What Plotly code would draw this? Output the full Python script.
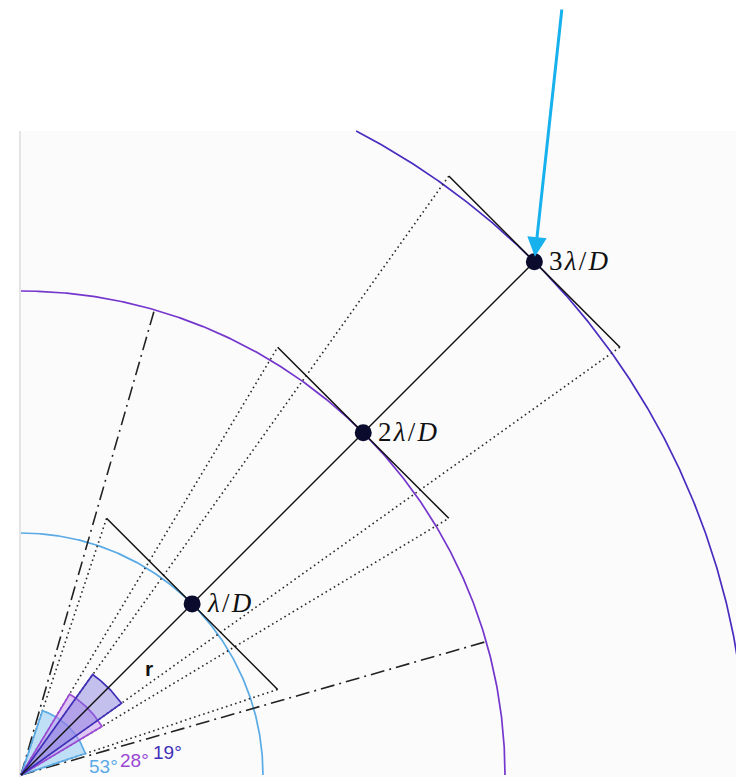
import numpy as np
import plotly.graph_objects as go

# Angular resolution diagram: rings at multiples of lambda/D, tangent chords of
# unit length at each ring, and the angle each chord subtends at the origin.

HS = "\u200a"  # hair space, math-style glyph spacing
RING_RADII = [1, 2, 3]                       # in units of lambda/D
RING_LABELS = [f"<i>λ</i>{HS}/{HS}<i>D</i>",
               f"2{HS}<i>λ</i>{HS}/{HS}<i>D</i>",
               f"3{HS}<i>λ</i>{HS}/{HS}<i>D</i>"]
RING_COLORS = ["#5aaae6", "#7436cc", "#4a2cbf"]

WEDGE_ANGLES = [53, 28, 19]                  # subtended angle, degrees
WEDGE_RADII = [0.28, 0.39, 0.51]
WEDGE_LINE = ["#5aaae6", "#9a48d4", "#3f2fb8"]
WEDGE_FILL = ["rgba(130,195,242,0.50)", "rgba(195,150,238,0.50)", "rgba(120,110,220,0.42)"]

CHORD = 1.0                                  # tangent chord length
AXIS_DEG = 45                                # direction of r
DASHDOT_HALF = 29                            # half-angle of the dash-dot guides
DASHDOT_LEN = 2.0

# Geometry of the canvas: 242 px per unit, origin near the lower-left corner
W, H = 736, 777
UNIT = 242.0
OX, OY = 21, 775
X_RANGE = [-OX / UNIT, (W - OX) / UNIT]
Y_RANGE = [-(H - OY) / UNIT, OY / UNIT]
PANEL = dict(x0=-1 / UNIT, x1=X_RANGE[1], y0=Y_RANGE[0], y1=(OY - 131) / UNIT)

fig = go.Figure()

# light panel behind the drawing
fig.add_shape(type="rect", xref="x", yref="y", layer="below",
              x0=PANEL["x0"], x1=PANEL["x1"], y0=PANEL["y0"], y1=PANEL["y1"],
              fillcolor="#fbfbfb", line=dict(width=0))
fig.add_shape(type="line", xref="x", yref="y", layer="below",
              x0=PANEL["x0"], x1=PANEL["x0"], y0=PANEL["y0"], y1=PANEL["y1"],
              line=dict(color="#e4e4e4", width=2))

def line(xs, ys, color, width, dash="solid"):
    fig.add_trace(go.Scatter(x=xs, y=ys, mode="lines", hoverinfo="skip",
                             line=dict(color=color, width=width, dash=dash)))

a0 = np.radians(AXIS_DEG)
u = np.array([np.cos(a0), np.sin(a0)])       # along r
t = np.array([np.cos(a0), -np.sin(a0)])      # tangent direction

# ring arcs (first quadrant, cut at the panel top)
for r, c in zip(RING_RADII, RING_COLORS):
    top = PANEL["y1"]
    th_max = np.pi / 2 if r <= top else np.arcsin(top / r)
    th = np.linspace(0, th_max, 400)
    line(r * np.cos(th), r * np.sin(th), c, 1.7)

# dash-dot guides
for s in (-1, 1):
    ang = np.radians(AXIS_DEG + s * DASHDOT_HALF)
    line([0, DASHDOT_LEN * np.cos(ang)], [0, DASHDOT_LEN * np.sin(ang)],
         "#222222", 1.6, "14px,5px,2px,5px")

# dotted rays to the chord ends
for r in RING_RADII:
    p = r * u
    for s in (-1, 1):
        e = p + s * CHORD / 2 * t
        line([0, e[0]], [0, e[1]], "#2a2a2a", 1.6, "1.6px,3.2px")

# wedges at the origin, widest first
for ang, rad, lc, fc in zip(WEDGE_ANGLES, WEDGE_RADII, WEDGE_LINE, WEDGE_FILL):
    th = np.radians(np.linspace(AXIS_DEG - ang / 2, AXIS_DEG + ang / 2, 60))
    xs = np.concatenate([[0], rad * np.cos(th), [0]])
    ys = np.concatenate([[0], rad * np.sin(th), [0]])
    fig.add_trace(go.Scatter(x=xs, y=ys, mode="lines", fill="toself",
                             fillcolor=fc, hoverinfo="skip",
                             line=dict(color=lc, width=1.7)))

# radius line
p3 = RING_RADII[-1] * u
line([0, p3[0]], [0, p3[1]], "#111111", 1.4)

# tangent chords
for r in RING_RADII:
    p = r * u
    a, b = p - CHORD / 2 * t, p + CHORD / 2 * t
    line([a[0], b[0]], [a[1], b[1]], "#111111", 1.5)

# points on the rings
pts = np.array([r * u for r in RING_RADII])
fig.add_trace(go.Scatter(x=pts[:, 0], y=pts[:, 1], mode="markers", hoverinfo="skip",
                         marker=dict(size=17, color="#0b0b2e",
                                     line=dict(color="#0b0b2e", width=0))))

# ring labels
for (x, y), lab in zip(pts, RING_LABELS):
    fig.add_annotation(x=x, y=y, text=lab, showarrow=False, xanchor="left",
                       yanchor="middle", xshift=13, yshift=1,
                       font=dict(family="Liberation Serif", size=27, color="#111111"))

# angle labels along the base
ang_lab_x = [0.34, 0.468, 0.605]
ang_lab_y = [0.035, 0.062, 0.092]
for ang, lc, x, y in zip(WEDGE_ANGLES, WEDGE_LINE, ang_lab_x, ang_lab_y):
    fig.add_annotation(x=x, y=y, text=f"{ang}°", showarrow=False,
                       xanchor="center", yanchor="middle",
                       font=dict(family="Liberation Sans", size=19, color=lc))

fig.add_annotation(x=0.528, y=0.44, text="<b>r</b>", showarrow=False,
                   font=dict(family="Liberation Sans", size=21, color="#111111"))

# pointer to the outermost point
fig.add_annotation(x=p3[0], y=p3[1], ax=(562 - OX) / UNIT, ay=(OY - 8) / UNIT,
                   axref="x", ayref="y", xref="x", yref="y", text="",
                   showarrow=True, arrowhead=2, arrowsize=1.3, arrowwidth=3,
                   arrowcolor="#17b1ee", standoff=5)

fig.update_xaxes(range=X_RANGE, visible=False, fixedrange=True)
fig.update_yaxes(range=Y_RANGE, visible=False, fixedrange=True)
fig.update_layout(width=W, height=H, autosize=False, showlegend=False,
                  margin=dict(l=0, r=0, t=0, b=0),
                  paper_bgcolor="white", plot_bgcolor="white")

fig.write_html("out.html", config=dict(displayModeBar=False))
